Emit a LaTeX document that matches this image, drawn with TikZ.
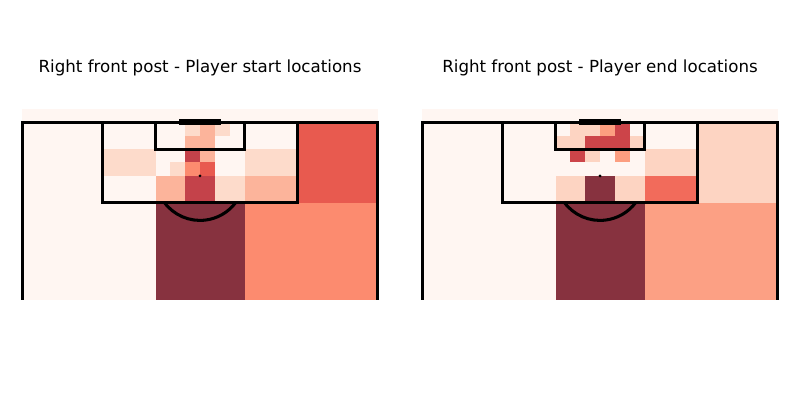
\documentclass[tikz,border=0pt]{standalone}
\usepackage{fontspec}
\setmainfont{DejaVu Sans}
\definecolor{hpale}{HTML}{FFF6F2}
\definecolor{hlight}{HTML}{FDDBCB}
\definecolor{hlightr}{HTML}{FDD4C2}
\definecolor{hpeach}{HTML}{FCB49B}
\definecolor{hsalmon}{HTML}{FC8B6F}
\definecolor{hsalmonr}{HTML}{FCA084}
\definecolor{hsalmonc}{HTML}{FC9E80}
\definecolor{horange}{HTML}{F26B5B}
\definecolor{hred}{HTML}{E85A4F}
\definecolor{hcrimson}{HTML}{C4424A}
\definecolor{hcrimsonr}{HTML}{CC4449}
\definecolor{hdark}{HTML}{87323F}

\begin{document}
\begin{tikzpicture}[x=0.72pt,y=-0.72pt,
		pitchline/.style={line width=2.2pt},
		goalline/.style={line width=3.8pt},
		titletext/.style={anchor=base,font=\fontsize{12}{14}\selectfont}]
				\useasboundingbox (0,0) rectangle (800,400);

				\node (starttitle) [titletext] at (200,72.7) {Right front post - Player start locations};
				\node (endtitle) [titletext] at (600,72.7) {Right front post - Player end locations};

				% start locations
				\fill[hpale] (22,109) rectangle (378,300);
				\fill[hlight] (102.1,149.1) rectangle (155.5,175.9);
				\fill[hpeach] (155.5,175.9) rectangle (185.2,202.7);
				\fill[hlight] (170.3,162.5) rectangle (185.2,175.9);
				\fill[hlight] (185.2,122.3) rectangle (200,135.7);
				\fill[hpeach] (185.2,135.7) rectangle (200,149.1);
				\fill[hcrimson] (185.2,149.1) rectangle (200,162.5);
				\fill[hsalmon] (185.2,162.5) rectangle (200,175.9);
				\fill[hcrimson] (185.2,175.9) rectangle (214.8,202.7);
				\fill[hpeach] (200,122.3) rectangle (214.8,162.5);
				\fill[hred] (200,162.5) rectangle (214.8,175.9);
				\fill[hlight] (214.8,122.3) rectangle (229.7,135.7);
				\fill[hlight] (214.8,175.9) rectangle (244.5,202.7);
				\fill[hlight] (244.5,149.1) rectangle (297.9,175.9);
				\fill[hpeach] (244.5,175.9) rectangle (297.9,202.7);
				\fill[hred] (297.9,122.3) rectangle (378,202.7);
				\fill[hdark] (155.5,202.7) rectangle (244.5,300);
				\fill[hsalmon] (244.5,202.7) rectangle (378,300);

				% end locations
				\fill[hpale] (422,109) rectangle (778,300);
				\fill[hlightr] (555.5,135.7) rectangle (570.3,149.1);
				\fill[hlightr] (570.3,122.3) rectangle (585.2,149.1);
				\fill[hcrimsonr] (570.3,149.1) rectangle (585.2,162.5);
				\fill[hlightr] (585.2,122.3) rectangle (600,135.7);
				\fill[hcrimsonr] (585.2,135.7) rectangle (614.8,149.1);
				\fill[hlightr] (585.2,149.1) rectangle (600,162.5);
				\fill[hsalmonc] (600,122.3) rectangle (614.8,135.7);
				\fill[hcrimsonr] (614.8,122.3) rectangle (629.7,149.1);
				\fill[hsalmonc] (614.8,149.1) rectangle (629.7,162.5);
				\fill[hlightr] (629.7,135.7) rectangle (644.5,149.1);
				\fill[hlightr] (555.5,175.9) rectangle (585.2,202.7);
				\fill[hdark] (585.2,175.9) rectangle (614.8,202.7);
				\fill[hlightr] (614.8,175.9) rectangle (644.5,202.7);
				\fill[hlightr] (644.5,149.1) rectangle (697.9,175.9);
				\fill[horange] (644.5,175.9) rectangle (697.9,202.7);
				\fill[hlightr] (697.9,122.3) rectangle (778,202.7);
				\fill[hdark] (555.5,202.7) rectangle (644.5,300);
				\fill[hsalmonr] (644.5,202.7) rectangle (778,300);

				\foreach \px in {0,400} {
					\begin{scope}[shift={(\px,0)}]
						\draw[pitchline] (22.5,300) -- (22.5,122.5) -- (377.5,122.5) -- (377.5,300);
						\draw[pitchline] (102.1,122.5) -- (102.1,202.7) -- (297.9,202.7) -- (297.9,122.5);
						\draw[pitchline] (155.5,122.5) -- (155.5,149.1) -- (244.5,149.1) -- (244.5,122.5);
						\draw[pitchline] (164.5,202.7) arc[start angle=143, end angle=37, radius=44.5];
						\fill (200,175.9) circle[radius=1.6];
						\draw[goalline] (179.3,122) -- (221,122);
					\end{scope}
				}
			\end{tikzpicture}
\end{document}
